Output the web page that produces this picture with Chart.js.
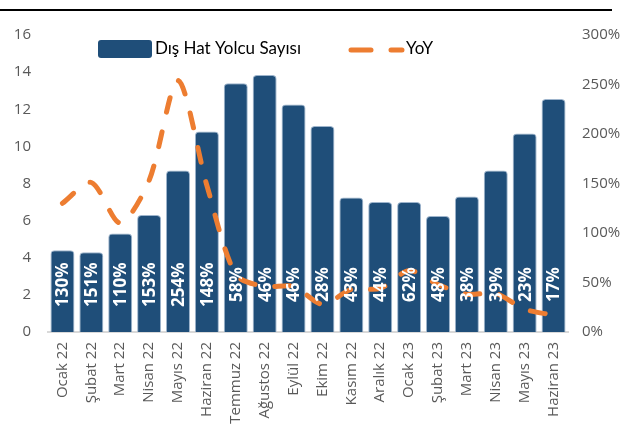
<!DOCTYPE html>
<html>
<head>
<meta charset="utf-8">
<script src="https://cdn.jsdelivr.net/npm/chart.js@4"></script>
<style>
  html, body { margin: 0; padding: 0; background: #fff; }
  #wrap { position: relative; width: 622px; height: 424px; }
</style>
</head>
<body>
<div id="wrap"><canvas id="chart" width="622" height="424"></canvas></div>
<script>
const months = ['Ocak 22', 'Şubat 22', 'Mart 22', 'Nisan 22', 'Mayıs 22', 'Haziran 22', 'Temmuz 22', 'Ağustos 22', 'Eylül 22',
    'Ekim 22', 'Kasım 22', 'Aralık 22', 'Ocak 23', 'Şubat 23', 'Mart 23', 'Nisan 23', 'Mayıs 23', 'Haziran 23'];
const passengers = [4.4, 4.3, 5.3, 6.3, 8.7, 10.8, 13.4, 13.85, 12.25, 11.1, 7.25, 7.0, 7.0, 6.25, 7.3, 8.7, 10.7, 12.55];
const yoy = [130, 151, 110, 153, 254, 148, 58, 46, 46, 28, 43, 44, 62, 48, 38, 39, 23, 17];
const leftTicks = [0, 2, 4, 6, 8, 10, 12, 14, 16];
const rightTicks = [0, 50, 100, 150, 200, 250, 300];

const BAR_COLOR = '#1F4E79';
const LINE_COLOR = '#ED7D31';
const TICK_COLOR = '#595959';

// white % labels inside the bars + legend + the cut-off header rule
const extras = {
    id: 'extras',
    afterDatasetsDraw(chart) {
        const { ctx, scales } = chart;
        const meta = chart.getDatasetMeta(1);
        const labelY = scales.y.getPixelForValue(2.55);
        ctx.save();
        ctx.fillStyle = '#fff';
        ctx.font = 'bold 17px "Open Sans"';
        ctx.textAlign = 'center';
        ctx.textBaseline = 'middle';
        meta.data.forEach((bar, i) => {
            ctx.save();
            ctx.translate(bar.x + 1, labelY);
            ctx.rotate(-Math.PI / 2);
            ctx.fillText(yoy[i] + '%', 0, 0);
            ctx.restore();
        });
        ctx.restore();
    },
    afterDraw(chart) {
        const { ctx } = chart;
        const lineSet = chart.data.datasets[0];
        const barSet = chart.data.datasets[1];
        ctx.save();
        // header rule
        ctx.strokeStyle = '#000';
        ctx.lineWidth = 2;
        ctx.beginPath();
        ctx.moveTo(0, 10);
        ctx.lineTo(612, 10);
        ctx.stroke();

        // legend
        ctx.fillStyle = BAR_COLOR;
        ctx.beginPath();
        ctx.roundRect(98, 40, 54, 18, 3);
        ctx.fill();
        ctx.fillStyle = '#000';
        ctx.font = '17px Lato';
        ctx.textBaseline = 'middle';
        ctx.textAlign = 'left';
        ctx.fillText(barSet.label, 155, 49);

        ctx.strokeStyle = LINE_COLOR;
        ctx.lineWidth = 5;
        ctx.lineCap = 'round';
        ctx.setLineDash([20, 20]);
        ctx.beginPath();
        ctx.moveTo(351, 50);
        ctx.lineTo(402, 50);
        ctx.stroke();
        ctx.setLineDash([]);
        ctx.fillText(lineSet.label, 406, 49);
        ctx.restore();
    }
};

function draw() {
    new Chart(document.getElementById('chart'), {
        data: {
            labels: months,
            datasets: [
                {
                    type: 'line',
                    label: 'YoY',
                    data: yoy,
                    yAxisID: 'y1',
                    borderColor: LINE_COLOR,
                    borderWidth: 5,
                    borderDash: [15, 20],
                    borderCapStyle: 'round',
                    tension: 0.28,
                    pointRadius: 0,
                    order: 0
                },
                {
                    type: 'bar',
                    label: 'Dış Hat Yolcu Sayısı',
                    data: passengers,
                    yAxisID: 'y',
                    backgroundColor: BAR_COLOR,
                    borderColor: '#9db4cc',
                    borderWidth: 1,
                    borderRadius: { topLeft: 4, topRight: 4 },
                    borderSkipped: 'bottom',
                    barPercentage: 0.83,
                    categoryPercentage: 1,
                    order: 1
                }
            ]
        },
        options: {
            responsive: false,
            animation: false,
            layout: { padding: { top: 35, right: 0, bottom: 0, left: 0 } },
            plugins: { legend: { display: false }, tooltip: { enabled: false } },
            scales: {
                x: {
                    offset: true,
                    grid: { display: false, drawTicks: false },
                    border: { color: '#d9d9d9', width: 2 },
                    ticks: {
                        color: TICK_COLOR,
                        font: { family: '"Open Sans"', size: 15 },
                        minRotation: 90,
                        maxRotation: 90,
                        padding: 10,
                        autoSkip: false
                    },
                    afterFit(scale) { scale.height = 92; }
                },
                y: {
                    position: 'left',
                    min: 0,
                    max: 16,
                    grid: { display: false, drawTicks: false },
                    border: { display: false },
                    afterBuildTicks(scale) { scale.ticks = leftTicks.map(v => ({ value: v })); },
                    ticks: {
                        color: TICK_COLOR,
                        font: { family: '"Open Sans"', size: 15 },
                        padding: 17
                    },
                    afterFit(scale) { scale.width = 48; }
                },
                y1: {
                    position: 'right',
                    min: 0,
                    max: 300,
                    grid: { display: false, drawTicks: false },
                    border: { display: false },
                    afterBuildTicks(scale) { scale.ticks = rightTicks.map(v => ({ value: v })); },
                    ticks: {
                        color: TICK_COLOR,
                        font: { family: '"Open Sans"', size: 15 },
                        padding: 14,
                        callback: v => v + '%'
                    },
                    afterFit(scale) { scale.width = 54; }
                }
            }
        },
        plugins: [extras]
    });
}

Promise.all([
    document.fonts.load('13px "Open Sans"'),
    document.fonts.load('bold 16px "Open Sans"'),
    document.fonts.load('16px Lato')
]).then(draw, draw);
</script>
</body>
</html>
